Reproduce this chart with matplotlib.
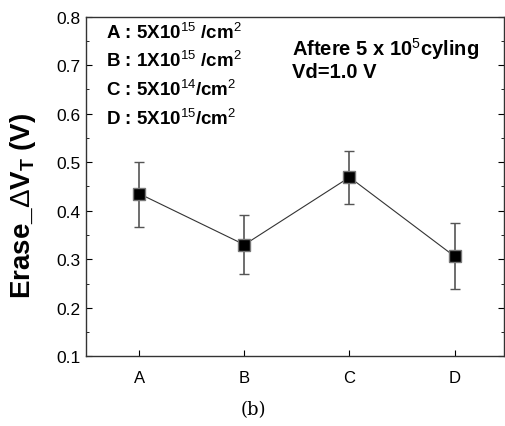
import matplotlib.pyplot as plt
from matplotlib.ticker import MultipleLocator

plt.rcParams['font.family'] = ['Liberation Sans', 'DejaVu Sans']
plt.rcParams['mathtext.fontset'] = 'custom'
plt.rcParams['mathtext.rm'] = 'Liberation Sans'
plt.rcParams['mathtext.bf'] = 'Liberation Sans:bold'

samples = ['A', 'B', 'C', 'D']
delta_vt = [0.435, 0.330, 0.469, 0.306]
err_low = [0.068, 0.061, 0.056, 0.068]
err_high = [0.065, 0.062, 0.055, 0.068]
doses = ['A : 5X10$^{15}$ /cm$^{2}$', 'B : 1X10$^{15}$ /cm$^{2}$',
         'C : 5X10$^{14}$/cm$^{2}$', 'D : 5X10$^{15}$/cm$^{2}$']

fig = plt.figure(figsize=(5.06, 4.27), dpi=100)
ax = fig.add_axes([0.170, 0.163, 0.826, 0.796])

x = list(range(len(samples)))
ax.errorbar(x, delta_vt, yerr=[err_low, err_high], fmt='none', ecolor='#555555',
            elinewidth=1.2, capsize=3.5, capthick=1.0, zorder=2)
ax.plot(x, delta_vt, color='#333333', lw=0.8, zorder=3)
ax.plot(x, delta_vt, 's', ms=9, mfc='black', mec='#777777', mew=1.0, zorder=4)

ax.set_xlim(-0.507, 3.47)
ax.set_ylim(0.1, 0.8)
ax.set_xticks(x)
ax.set_xticklabels(samples, fontsize=12)
ax.yaxis.set_major_locator(MultipleLocator(0.1))
ax.yaxis.set_minor_locator(MultipleLocator(0.05))
ax.set_yticklabels(['%.1f' % v for v in ax.get_yticks()], fontsize=12.5)
ax.tick_params(axis='y', which='both', direction='in', right=True, length=4, pad=4)
ax.tick_params(axis='y', which='minor', length=2.5)
ax.tick_params(axis='x', direction='in', length=4, pad=10)
for s in ax.spines.values():
    s.set_linewidth(1.0)
    s.set_color('#333333')

ax.set_ylabel(r'Erase_$\Delta$V$_{\mathbf{T}}$ (V)', fontsize=20, fontweight='bold')
ax.yaxis.set_label_coords(-0.115, 0.446)

for i, d in enumerate(doses):
    ax.text(0.048, 0.937 - i * 0.084, d, transform=ax.transAxes, fontsize=13.5,
            fontweight='bold', va='baseline', ha='left')
ax.text(0.494, 0.887, 'Aftere 5 x 10$^{5}$cyling', transform=ax.transAxes,
        fontsize=14.5, fontweight='bold', va='baseline', ha='left')
ax.text(0.494, 0.822, 'Vd=1.0 V', transform=ax.transAxes,
        fontsize=14.5, fontweight='bold', va='baseline', ha='left')

fig.text(0.5, 0.04, '(b)', fontsize=13, family='DejaVu Serif', ha='center', va='center')

fig.savefig('out.png', dpi=100)
